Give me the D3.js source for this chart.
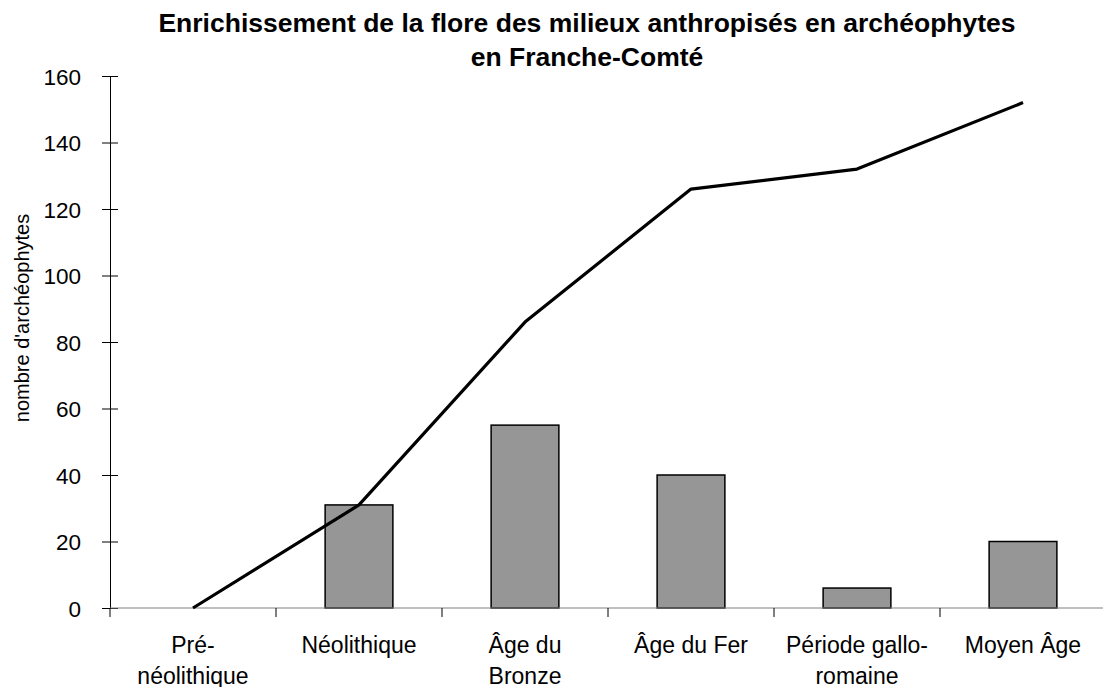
<!DOCTYPE html>
<html>
<head>
<meta charset="utf-8">
<script src="https://cdn.jsdelivr.net/npm/d3@7"></script>
<style>
  body { margin: 0; background: #fff; }
  svg text { font-family: "Liberation Sans", Arial, sans-serif; fill: #000; }
</style>
</head>
<body>
<div id="chart"></div>
<script>
// ---------- DATA ---------- //
const periods = [
  ["Pré-", "néolithique"],
  ["Néolithique"],
  ["Âge du", "Bronze"],
  ["Âge du Fer"],
  ["Période gallo-", "romaine"],
  ["Moyen Âge"]
];
const newSpecies = [0, 31, 55, 40, 6, 20];        // bars
const cumulSpecies = [0, 31, 86, 126, 132, 152];  // line
const yTicks = [0, 20, 40, 60, 80, 100, 120, 140, 160];

const titleLines = [
  "Enrichissement de la flore des milieux anthropisés en archéophytes",
  "en Franche-Comté"
];
const yLabel = "nombre d'archéophytes";

// ---------- LAYOUT ---------- //
const W = 1103, H = 687;
const margin = {top: 76, right: -3, bottom: 79, left: 110};
const width = W - margin.left - margin.right,
      height = H - margin.top - margin.bottom;

const svg = d3.select("#chart").append("svg")
  .attr("width", W)
  .attr("height", H);

const g = svg.append("g")
  .attr("transform", "translate(" + margin.left + "," + margin.top + ")");

// scales
const x = d3.scaleBand()
  .domain(d3.range(periods.length))
  .range([0, width])
  .padding(0);

const y = d3.scaleLinear()
  .domain([0, 160])
  .range([height, 0]);

const barW = x.bandwidth() / 2.45;  // gap width 145%

// title
svg.append("text")
  .attr("x", 587)
  .attr("y", 32)
  .attr("text-anchor", "middle")
  .style("font-size", "26.5px")
  .style("font-weight", "bold")
  .selectAll("tspan")
  .data(titleLines)
  .enter()
  .append("tspan")
  .attr("x", 587)
  .attr("dy", (d, i) => i ? 33.5 : 0)
  .text(d => d);

// y axis title
svg.append("text")
  .attr("transform", "translate(29," + 318 + ") rotate(-90)")
  .attr("text-anchor", "middle")
  .style("font-size", "20px")
  .text(yLabel);

// y axis
const yAxis = g.append("g")
  .call(d3.axisLeft(y).tickValues(yTicks).tickSize(8).tickSizeOuter(0).tickPadding(21));
yAxis.select(".domain").attr("stroke", "#000");
yAxis.selectAll(".tick line").attr("x2", 8).attr("x1", -8).attr("stroke", "#000");
yAxis.selectAll(".tick text")
  .style("font-size", "22.5px")
  .attr("dy", "0.36em");

// bars
g.selectAll("rect.bar")
  .data(newSpecies)
  .enter()
  .append("rect")
  .attr("class", "bar")
  .attr("x", (d, i) => x(i) + (x.bandwidth() - barW) / 2)
  .attr("y", d => y(d))
  .attr("width", barW)
  .attr("height", d => y(0) - y(d))
  .attr("fill", d => d > 0 ? "#969696" : "none")
  .attr("stroke", d => d > 0 ? "#000" : "none")
  .attr("stroke-width", 1.5);

// x axis
const xAxis = g.append("g")
  .attr("transform", "translate(0," + height + ")");
xAxis.append("line")
  .attr("x1", 0)
  .attr("x2", width)
  .attr("stroke", "#808080")
  .attr("stroke-width", 1.2);
xAxis.selectAll("line.sep")
  .data(d3.range(periods.length))
  .enter()
  .append("line")
  .attr("class", "sep")
  .attr("x1", d => x(d))
  .attr("x2", d => x(d))
  .attr("y1", 0)
  .attr("y2", 9)
  .attr("stroke", "#000");

const labels = xAxis.selectAll("text.cat")
  .data(periods)
  .enter()
  .append("text")
  .attr("class", "cat")
  .attr("text-anchor", "middle")
  .style("font-size", "23px");
labels.selectAll("tspan")
  .data((d, i) => d.map(t => ({t: t, i: i})))
  .enter()
  .append("tspan")
  .attr("x", d => x(d.i) + x.bandwidth() / 2)
  .attr("y", (d, j) => 45 + j * 30.5)
  .text(d => d.t);

// cumulative line
const line = d3.line()
  .x((d, i) => x(i) + x.bandwidth() / 2)
  .y(d => y(d));

g.append("path")
  .datum(cumulSpecies)
  .attr("fill", "none")
  .attr("stroke", "#000")
  .attr("stroke-width", 3.2)
  .attr("stroke-linejoin", "round")
  .attr("d", line);
</script>
</body>
</html>
